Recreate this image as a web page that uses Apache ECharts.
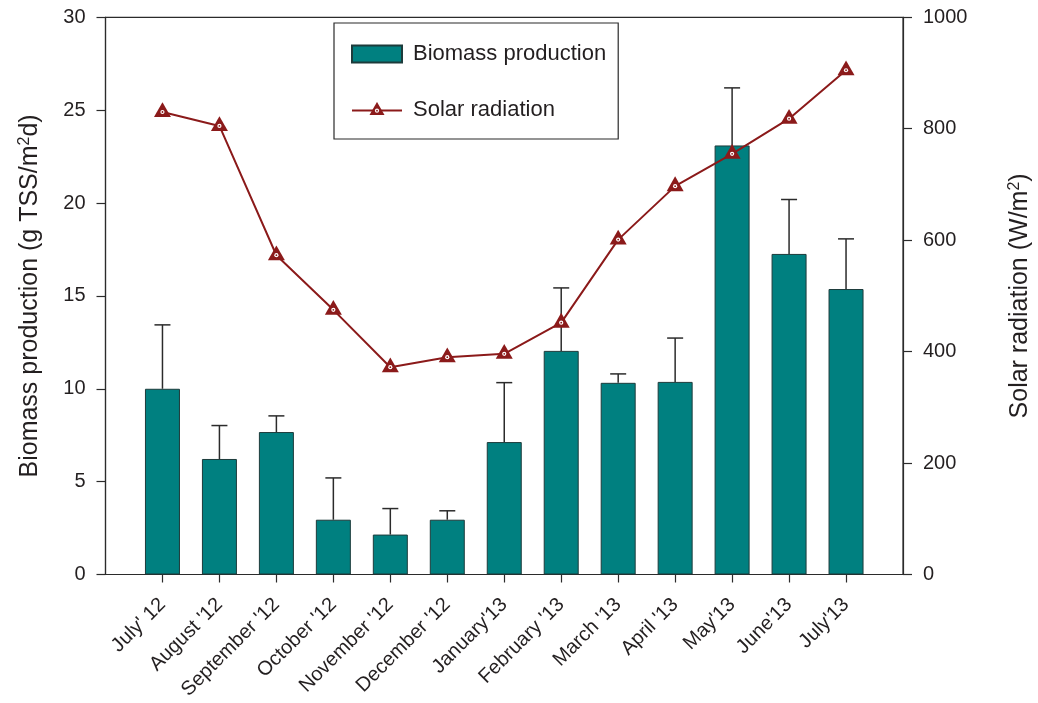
<!DOCTYPE html>
<html>
<head>
<meta charset="utf-8">
<title>Biomass production and solar radiation</title>
<script src="https://cdn.jsdelivr.net/npm/echarts@6/dist/echarts.min.js"></script>
<style>
  html, body { margin: 0; padding: 0; background: #ffffff; }
  #chart { width: 1038px; height: 703px; }
</style>
</head>
<body>
<div id="chart"></div>
<script>
// Monthly sampling periods
const months = ["July' 12", "August '12", "September '12", "October '12", "November '12", "December '12",
                "January'13", "February '13", "March '13", "April '13", "May'13", "June'13", "July'13"];
// Biomass production, g TSS/m2d (mean and upper standard deviation)
const biomass    = [10.0, 6.22, 7.67, 2.95, 2.15, 2.95, 7.13, 12.04, 10.32, 10.37, 23.1, 17.26, 15.37];
const biomassErr = [3.44, 1.8, 0.87, 2.25, 1.4, 0.48, 3.2, 3.39, 0.48, 2.36, 3.1, 2.93, 2.7];
// Mean solar radiation, W/m2
const solar      = [830, 805, 573, 475, 372, 390, 396, 452, 601, 697, 755, 818, 905];
// Axis ticks
const leftTicks  = { min: 0, max: 30, interval: 5 };
const rightTicks = { min: 0, max: 1000, interval: 200 };

const FONT = "'Liberation Sans', Arial, sans-serif";
const TEXT = '#231f20';
const AXIS = '#2b2b2b';
const RED  = '#8b1a1a';
const TEAL = '#008080';

// Category axis padded with one empty slot on each side
const cats = [''].concat(months, ['']);
const pad = arr => ['-'].concat(arr, ['-']);
const errData = months.map((m, i) => [i + 1, biomass[i], biomassErr[i]]);

const svgUri = s => 'image://data:image/svg+xml;charset=utf-8,' + encodeURIComponent(s);

// Triangle marker with a small ringed dot at its centroid
const markerSymbol = svgUri(
  '<svg xmlns="http://www.w3.org/2000/svg" width="48" height="48" viewBox="0 0 24 24">' +
  '<polygon points="12,2.2 20.5,17.0 3.5,17.0" fill="' + RED + '"/>' +
  '<circle cx="12" cy="12" r="2.1" fill="#ffffff"/>' +
  '<circle cx="12" cy="12" r="0.9" fill="' + RED + '"/>' +
  '</svg>');

// Legend key for the line: segment with the same marker on it
const lineKey = svgUri(
  '<svg xmlns="http://www.w3.org/2000/svg" width="100" height="34" viewBox="0 0 50 17" preserveAspectRatio="none">' +
  '<line x1="0" y1="9" x2="50" y2="9" stroke="' + RED + '" stroke-width="2"/>' +
  '<polygon points="25,0.4 32.5,13.6 17.5,13.6" fill="' + RED + '"/>' +
  '<circle cx="25" cy="9.2" r="2.1" fill="#ffffff"/>' +
  '<circle cx="25" cy="9.2" r="0.9" fill="' + RED + '"/>' +
  '</svg>');

const axisName = {
  rich: {
    t: { fontSize: 25, color: TEXT, fontFamily: FONT },
    s: { fontSize: 16, color: TEXT, fontFamily: FONT, verticalAlign: 'top', padding: [0, 0, 11, 0] }
  }
};

const chart = echarts.init(document.getElementById('chart'), null, { renderer: 'canvas' });

chart.setOption({
  animation: false,
  textStyle: { fontFamily: FONT, color: TEXT },
  grid: {
    left: 105.5, right: 1038 - 903, top: 17.3, bottom: 703 - 574.5,
    containLabel: false, outerBoundsMode: 'none',
    show: true, borderColor: AXIS, borderWidth: 1.2, backgroundColor: 'transparent'
  },
  legend: {
    orient: 'vertical',
    left: 334, top: 23,
    padding: [20, 12, 18, 17],
    itemWidth: 50, itemHeight: 17, itemGap: 34,
    borderColor: AXIS, borderWidth: 1.2,
    textStyle: { fontSize: 22, color: TEXT, fontFamily: FONT, padding: [0, 0, 0, 6] },
    data: [
      { name: 'Biomass production', icon: 'rect' },
      { name: 'Solar radiation', icon: lineKey }
    ]
  },
  xAxis: {
    type: 'category',
    data: cats,
    boundaryGap: false,
    axisLine: { lineStyle: { color: AXIS, width: 1.2 } },
    axisTick: { length: 8, lineStyle: { color: AXIS, width: 1.2 }, interval: (i, v) => v !== '' },
    axisLabel: {
      interval: (i, v) => v !== '',
      rotate: 45, margin: 27,
      fontSize: 20, color: TEXT, fontFamily: FONT
    },
    splitLine: { show: false }
  },
  yAxis: [
    {
      type: 'value',
      min: leftTicks.min, max: leftTicks.max, interval: leftTicks.interval,
      position: 'left',
      name: '{t|Biomass production (g TSS/m}{s|2}{t|d)}',
      nameLocation: 'middle', nameRotate: 90, nameGap: 62,
      nameTextStyle: axisName,
      axisLine: { show: true, lineStyle: { color: AXIS, width: 1.2 } },
      axisTick: { show: true, inside: false, length: 9, lineStyle: { color: AXIS, width: 1.2 } },
      axisLabel: { margin: 20, fontSize: 20, color: TEXT, fontFamily: FONT },
      splitLine: { show: false }
    },
    {
      type: 'value',
      min: rightTicks.min, max: rightTicks.max, interval: rightTicks.interval,
      position: 'right',
      name: '{t|Solar radiation (W/m}{s|2}{t|)}',
      nameLocation: 'middle', nameRotate: 90, nameGap: 104,
      nameTextStyle: axisName,
      axisLine: { show: true, lineStyle: { color: AXIS, width: 1.2 } },
      axisTick: { show: true, inside: false, length: 9, lineStyle: { color: AXIS, width: 1.2 } },
      axisLabel: { margin: 20, fontSize: 20, color: TEXT, fontFamily: FONT, formatter: v => String(v) },
      splitLine: { show: false }
    }
  ],
  series: [
    {
      name: 'Biomass production',
      type: 'bar',
      yAxisIndex: 0,
      data: pad(biomass),
      barWidth: 35,
      itemStyle: { color: TEAL, borderColor: '#1d3b3b', borderWidth: 1 },
      z: 2
    },
    {
      name: 'Biomass error',
      type: 'custom',
      yAxisIndex: 0,
      data: errData,
      z: 3,
      renderItem: function (params, api) {
        const base = api.coord([api.value(0), api.value(1)]);
        const top = api.coord([api.value(0), api.value(1) + api.value(2)]);
        const half = 8;
        const style = { stroke: '#2b2b2b', lineWidth: 1.5, fill: null };
        return {
          type: 'group',
          children: [
            { type: 'line', shape: { x1: base[0], y1: base[1], x2: top[0], y2: top[1] }, style: style },
            { type: 'line', shape: { x1: top[0] - half, y1: top[1], x2: top[0] + half, y2: top[1] }, style: style }
          ]
        };
      }
    },
    {
      name: 'Solar radiation',
      type: 'line',
      yAxisIndex: 1,
      data: pad(solar),
      symbol: markerSymbol,
      symbolSize: 24,
      showAllSymbol: true,
      lineStyle: { color: RED, width: 2 },
      itemStyle: { color: RED },
      z: 4
    }
  ]
});
</script>
</body>
</html>
